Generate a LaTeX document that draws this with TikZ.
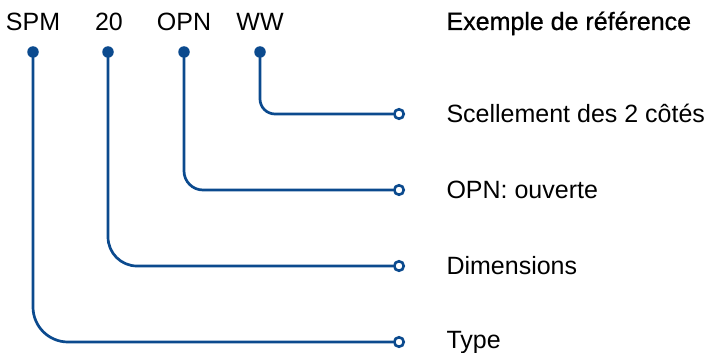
\documentclass[tikz,border=0pt]{standalone}
\usepackage{fontspec}
\setmainfont{Liberation Sans}
\newfontfamily\headfont[FakeBold=0.8]{Liberation Sans}
\definecolor{codeblue}{HTML}{0B4A8E}

\begin{document}
\begin{tikzpicture}[x=1pt, y=-1pt,
  line/.style={draw=codeblue, line width=2.7pt},
  dot/.style={circle, fill=codeblue, inner sep=0pt, minimum size=11.5pt},
  ring/.style={circle, draw=codeblue, line width=2.6pt, fill=white,
    inner sep=0pt, minimum size=9.5pt},
  code/.style={anchor=base, font=\fontsize{25}{30}\selectfont},
  label/.style={anchor=base west, font=\fontsize{25}{30}\selectfont}]
  \useasboundingbox (0,0) rectangle (710,353);

  % code letters
  \node (SPM) at (33,31) [code] {SPM};
  \node (Size) at (109,31) [code] {20};
  \node (Open) at (184,31) [code] {OPN};
  \node (Seal) at (260,31) [code] {WW};
  \node (Head) at (443,30) [label, font=\fontsize{25}{30}\headfont] {Exemple de référence};

  % dots under the letters
  \node (dSPM) at (33,52) [dot] {};
  \node (dSize) at (108,52) [dot] {};
  \node (dOpen) at (184,52) [dot] {};
  \node (dSeal) at (260,52) [dot] {};

  % rings on the right
  \node (rSeal) at (399,114) [ring] {};
  \node (rOpen) at (399,190) [ring] {};
  \node (rSize) at (399,266) [ring] {};
  \node (rSPM) at (399,342) [ring] {};

  % meanings
  \node (tSeal) at (443,122) [label] {Scellement des 2 côtés};
  \node (tOpen) at (443,198) [label] {OPN: ouverte};
  \node (tSize) at (443,274) [label] {Dimensions};
  \node (tSPM) at (443,348) [label] {Type};

  \draw[line, rounded corners=15pt] (dSeal.center) |- (rSeal);
  \draw[line, rounded corners=19pt] (dOpen.center) |- (rOpen);
  \draw[line, rounded corners=29pt] (dSize.center) |- (rSize);
  \draw[line, rounded corners=35pt] (dSPM.center) |- (rSPM);
\end{tikzpicture}
\end{document}
